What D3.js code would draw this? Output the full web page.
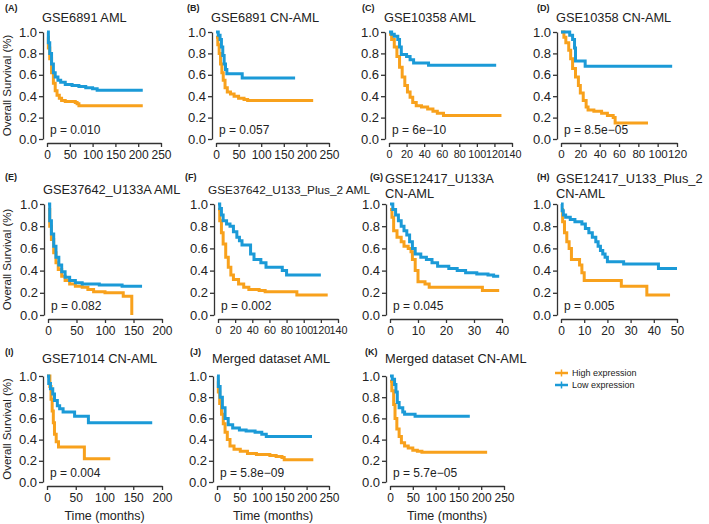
<!DOCTYPE html>
<meta charset="utf-8">
<style>
body { margin: 0; background: #fff; }
svg text { font-family: "Liberation Sans", Arial, sans-serif; fill: #222; }
.axis path, .axis line { stroke: #333; stroke-width: 1.3px; }
.axis text { fill: #222; }
.km { fill: none; stroke-width: 3px; stroke-linejoin: miter; }
</style>
<svg width="709" height="524"></svg>
<script src="https://d3js.org/d3.v7.min.js"></script>
<script>
// panel labels, titles, p values, x ticks
const panelIds = ["A", "B", "C", "D", "E", "F", "G", "H", "I", "J", "K"];
const panelTitles = [
  ["GSE6891 AML"], ["GSE6891 CN-AML"], ["GSE10358 AML"], ["GSE10358 CN-AML"],
  ["GSE37642_U133A AML"], ["GSE37642_U133_Plus_2 AML"], ["GSE12417_U133A", "CN-AML"],
  ["GSE12417_U133_Plus_2", "CN-AML"], ["GSE71014 CN-AML"], ["Merged dataset AML"],
  ["Merged dataset CN-AML"]
];
const pValues = ["p = 0.010", "p = 0.057", "p = 6e\u221210", "p = 8.5e\u221205", "p = 0.082",
  "p = 0.002", "p = 0.045", "p = 0.005", "p = 0.004", "p = 5.8e\u221209", "p = 5.7e\u221205"];
const xTicks = [
  [0, 50, 100, 150, 200, 250], [0, 50, 100, 150, 200, 250],
  [0, 20, 40, 60, 80, 100, 120, 140], [0, 20, 40, 60, 80, 100, 120],
  [0, 50, 100, 150, 200], [0, 20, 40, 60, 80, 100, 120, 140],
  [0, 10, 20, 30, 40], [0, 10, 20, 30, 40, 50],
  [0, 50, 100, 150, 200], [0, 50, 100, 150, 200, 250], [0, 50, 100, 150, 200, 250]
];
const yTicks = [0, 0.2, 0.4, 0.6, 0.8, 1.0];
const groups = ["High expression", "Low expression"];

// survival steps [time, survival] for high / low expression
const hiA = [[0,0.95],[3,0.85],[6,0.75],[10,0.62],[14,0.52],[18,0.45],[22,0.41],[27,0.38],[32,0.36],[40,0.35],[55,0.35],[62,0.34],[66,0.33],[70,0.31],[210,0.31]];
const loA = [[0,1.0],[3,0.9],[6,0.8],[10,0.7],[14,0.62],[18,0.58],[24,0.55],[30,0.53],[40,0.51],[55,0.5],[70,0.49],[85,0.48],[100,0.47],[110,0.455],[210,0.455]];
const hiB = [[0,0.95],[4,0.88],[7,0.8],[10,0.7],[13,0.62],[16,0.55],[20,0.48],[25,0.44],[32,0.42],[40,0.4],[50,0.38],[62,0.37],[70,0.36],[215,0.36]];
const loB = [[0,1.0],[5,0.97],[9,0.93],[12,0.86],[15,0.78],[18,0.7],[21,0.65],[24,0.61],[58,0.57],[175,0.57]];
const hiC = [[0,0.98],[3,0.93],[6,0.86],[9,0.77],[12,0.67],[15,0.58],[18,0.5],[21,0.44],[24,0.39],[27,0.34],[31,0.31],[37,0.3],[44,0.28],[50,0.26],[55,0.24],[62,0.22],[128,0.22]];
const loC = [[0,1.0],[3,0.98],[6,0.96],[10,0.93],[12,0.86],[14,0.79],[20,0.77],[24,0.74],[28,0.71],[45,0.69],[122,0.69]];
const hiD = [[0,1.0],[3,0.95],[5,0.9],[8,0.83],[10,0.75],[12,0.66],[15,0.58],[18,0.5],[20,0.43],[23,0.36],[26,0.3],[28,0.27],[34,0.26],[42,0.24],[48,0.22],[54,0.2],[56,0.15],[90,0.15]];
const loD = [[0,1.0],[9,0.97],[12,0.93],[14,0.85],[15,0.73],[25,0.68],[115,0.68]];
const hiE = [[0,0.95],[3,0.8],[6,0.68],[10,0.56],[14,0.47],[18,0.41],[24,0.35],[30,0.31],[38,0.28],[48,0.26],[60,0.25],[70,0.23],[80,0.21],[100,0.2],[132,0.17],[147,0],[147,0]];
const loE = [[0,1.0],[3,0.85],[6,0.73],[10,0.62],[14,0.52],[19,0.45],[24,0.39],[30,0.34],[38,0.31],[48,0.29],[60,0.28],[90,0.27],[130,0.26],[165,0.26]];
const hiF = [[0,0.95],[2,0.85],[4,0.74],[6,0.64],[9,0.52],[12,0.43],[15,0.36],[18,0.32],[24,0.28],[30,0.25],[36,0.23],[48,0.22],[55,0.21],[92,0.18],[128,0.18]];
const loF = [[0,1.0],[2,0.96],[4,0.9],[6,0.85],[10,0.82],[14,0.8],[18,0.75],[22,0.7],[25,0.67],[28,0.63],[38,0.55],[42,0.5],[50,0.47],[56,0.43],[75,0.4],[80,0.36],[120,0.36]];
const hiG = [[0,0.95],[0.7,0.88],[1.3,0.76],[2.5,0.7],[4,0.66],[5,0.62],[6.5,0.6],[7.5,0.57],[8,0.5],[9,0.4],[10,0.3],[12.5,0.28],[14,0.25],[33,0.22],[39,0.22]];
const loG = [[0,1.0],[1,0.95],[2,0.9],[3,0.85],[4,0.8],[5,0.76],[6,0.72],[7,0.66],[8,0.6],[9,0.55],[11,0.52],[13,0.5],[15,0.47],[17,0.44],[21,0.42],[24,0.4],[27,0.38],[31,0.37],[35,0.36],[37,0.35],[39,0.35]];
const hiH = [[0,0.95],[0.7,0.84],[1.5,0.74],[2.5,0.66],[3.5,0.6],[4.5,0.5],[8,0.45],[9,0.38],[10,0.31],[26,0.26],[37,0.18],[47,0.18]];
const loH = [[0,1.0],[0.5,0.94],[1,0.9],[2,0.88],[4,0.86],[6,0.84],[9,0.82],[10.5,0.78],[12,0.74],[13.5,0.7],[15,0.66],[16,0.62],[17,0.58],[18,0.55],[19,0.52],[20,0.48],[27,0.46],[42,0.42],[50,0.42]];
const hiI = [[0,1.0],[5,0.9],[7,0.78],[9,0.67],[11,0.56],[13,0.45],[16,0.38],[20,0.33],[65,0.22],[110,0.22]];
const loI = [[0,1.0],[3,0.93],[6,0.88],[10,0.83],[13,0.77],[18,0.72],[22,0.69],[28,0.66],[48,0.62],[72,0.56],[183,0.56]];
const hiJ = [[0,0.95],[3,0.85],[6,0.74],[10,0.64],[14,0.55],[18,0.47],[23,0.4],[29,0.34],[38,0.31],[52,0.29],[68,0.27],[88,0.26],[118,0.25],[132,0.24],[145,0.23],[150,0.21],[215,0.21]];
const loJ = [[0,1.0],[3,0.9],[7,0.8],[12,0.7],[18,0.6],[25,0.54],[35,0.51],[50,0.49],[65,0.48],[85,0.47],[100,0.45],[110,0.43],[212,0.43]];
const hiK = [[0,0.95],[4,0.86],[8,0.73],[11,0.6],[15,0.5],[20,0.43],[25,0.37],[32,0.34],[40,0.32],[50,0.3],[60,0.29],[70,0.28],[213,0.28]];
const loK = [[0,1.0],[5,0.97],[10,0.92],[13,0.85],[16,0.75],[20,0.7],[28,0.66],[32,0.64],[55,0.62],[175,0.62]];

const highCurves = [hiA, hiB, hiC, hiD, hiE, hiF, hiG, hiH, hiI, hiJ, hiK];
const lowCurves = [loA, loB, loC, loD, loE, loF, loG, loH, loI, loJ, loK];

const colors = {"High expression": "#f8a11c", "Low expression": "#1b9ad7"};

// layout: y-axis x, right end of x axis, panel-label x, font sizes
const axX = [43, 212, 385, 557, 44, 214, 386, 557, 43, 213, 386];
const xEnd = [161, 329, 512, 677, 162, 338, 502, 677, 162, 329, 504];
const labX = [5, 187, 362, 537, 5, 185, 370, 537, 5, 190, 365];
const xTickFont = [12, 12, 10.8, 11.5, 12, 10.8, 12, 12, 12, 12, 12];
const titleFont = [12.8, 12.8, 12.8, 12.8, 12.8, 11.8, 12.8, 12.8, 12.8, 12.8, 12.8];
const rowTop = [32, 204, 376];
const rowBot = [139, 315, 482];
const labY = [11, 180, 355];
const titleY = [21.5, 193.5, 362.5];

const svg = d3.select("svg");

panelIds.forEach(function(id, i) {
  const row = Math.floor(i / 4), col = i % 4;
  const ax = axX[i];
  const ticks = xTicks[i];
  const x = d3.scaleLinear().domain([0, ticks[ticks.length - 1]]).range([ax + 4, xEnd[i]]);
  const y = d3.scaleLinear().domain([0, 1]).range([rowBot[row], rowTop[row]]);
  const g = svg.append("g");

  // y axis
  g.append("g").attr("class", "axis")
    .attr("transform", "translate(" + ax + ",0)")
    .call(d3.axisLeft(y).tickValues(yTicks).tickFormat(d3.format(".1f")).tickSize(4).tickSizeOuter(0).tickPadding(2))
    .selectAll("text").style("font-size", "13px");

  // x axis
  g.append("g").attr("class", "axis")
    .attr("transform", "translate(0," + (rowBot[row] + 4) + ")")
    .call(d3.axisBottom(x).tickValues(ticks).tickFormat(d3.format("d")).tickSize(4).tickSizeOuter(0).tickPadding(3))
    .selectAll("text").style("font-size", xTickFont[i] + "px");

  const line = d3.line()
    .x(function(d) { return x(d[0]); })
    .y(function(d) { return y(d[1]); })
    .curve(d3.curveStepAfter);

  g.append("path").attr("class", "km").attr("d", line(highCurves[i])).attr("stroke", colors[groups[0]]);
  g.append("path").attr("class", "km").attr("d", line(lowCurves[i])).attr("stroke", colors[groups[1]]);

  // p value
  g.append("text").attr("x", ax + 7).attr("y", rowBot[row] - 5)
    .style("font-size", "12px").text(pValues[i]);

  // titles
  const t = panelTitles[i];
  const tx = (i === 5) ? ax - 6 : ax - 1;
  const tf = titleFont[i] + "px";
  if (t.length === 1) {
    g.append("text").attr("x", tx).attr("y", titleY[row]).style("font-size", tf).text(t[0]);
  } else {
    g.append("text").attr("x", tx).attr("y", titleY[row] - 11).style("font-size", tf).text(t[0]);
    g.append("text").attr("x", tx).attr("y", titleY[row] + 4).style("font-size", tf).text(t[1]);
  }

  // panel label
  g.append("text").attr("x", labX[i]).attr("y", labY[row])
    .style("font-size", "9px").style("font-weight", "bold").text("(" + id + ")");

  if (col === 0) {
    const cy = (rowTop[row] + rowBot[row]) / 2;
    g.append("text")
      .attr("transform", "translate(11," + cy + ") rotate(-90)")
      .attr("text-anchor", "middle")
      .style("font-size", "11.5px")
      .text("Overall Survival (%)");
  }
  if (row === 2) {
    g.append("text").attr("x", (x.range()[0] + x.range()[1]) / 2).attr("y", 520)
      .attr("text-anchor", "middle").style("font-size", "12.5px").text("Time (months)");
  }
});

// legend
const legend = svg.append("g").attr("transform", "translate(555,373)");
groups.forEach(function(name, k) {
  const lg = legend.append("g").attr("transform", "translate(0," + (k * 12) + ")");
  lg.append("line").attr("x1", 0).attr("x2", 13).attr("y1", 0).attr("y2", 0)
    .attr("stroke", colors[name]).attr("stroke-width", 2.5);
  lg.append("line").attr("x1", 6.5).attr("x2", 6.5).attr("y1", -3.5).attr("y2", 3.5)
    .attr("stroke", colors[name]).attr("stroke-width", 1.5);
  lg.append("text").attr("x", 17).attr("y", 3.3).style("font-size", "9px").text(name);
});
</script>
